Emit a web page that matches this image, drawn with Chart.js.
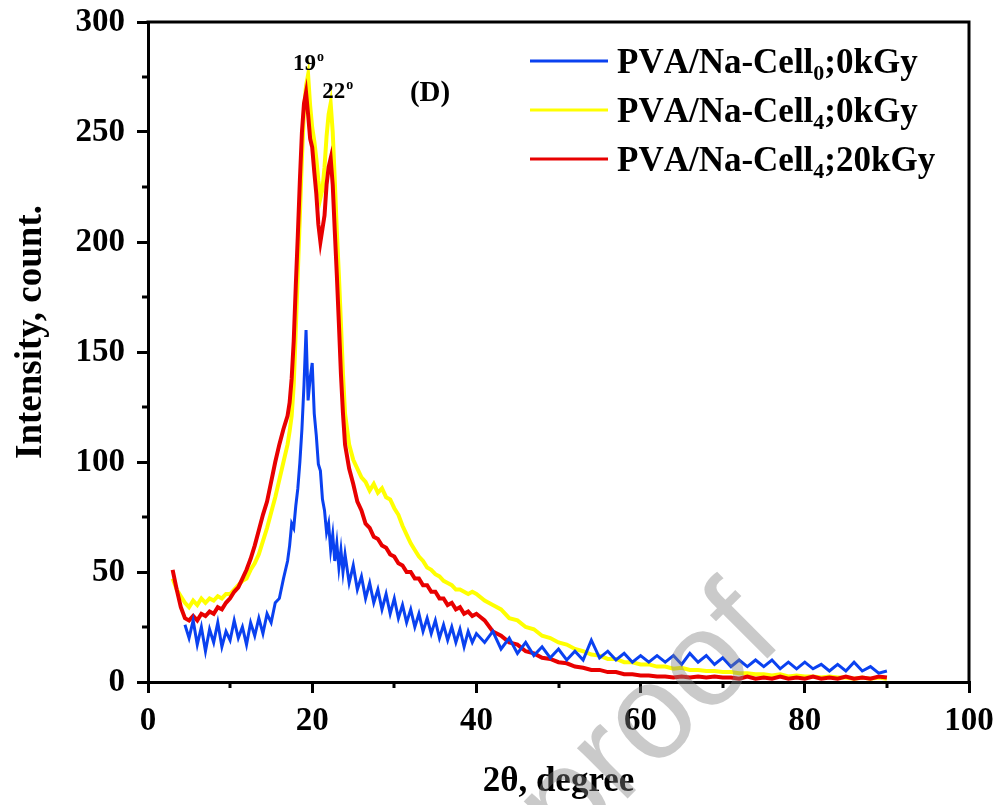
<!DOCTYPE html>
<html>
<head>
<meta charset="utf-8">
<script src="https://cdn.jsdelivr.net/npm/chart.js@4.4.1/dist/chart.umd.min.js"></script>
<style>
  html, body { margin: 0; padding: 0; background: #fff; }
  #wrap { width: 999px; height: 805px; }
</style>
</head>
<body>
<div id="wrap"><canvas id="canvasOne" width="999" height="805"></canvas></div>
<script>
// 2theta positions (degree)
var twoTheta = [
  3,3.5,4,4.5,5,5.5,6,6.5,7,7.5,8,8.5,9,9.5,10,10.5,11,11.5,12,12.5,13,13.5,14,14.5,15,15.5,16,16.5,17,
  17.25,17.5,17.75,18,18.25,18.5,18.75,19,19.25,19.5,19.75,20,20.25,20.5,20.75,21,21.25,21.5,21.75,22,22.25,22.5,22.75,23,23.25,23.5,23.75,24,
  24.5,25,25.5,26,26.5,27,27.5,28,28.5,29,29.5,30,30.5,31,31.5,32,32.5,33,33.5,34,34.5,35,35.5,36,36.5,37,37.5,38,38.5,39,39.5,40,
  41,42,43,44,45,46,47,48,49,50,51,52,53,54,55,56,57,58,59,60,61,62,63,64,65,66,67,68,69,70,
  71,72,73,74,75,76,77,78,79,80,81,82,83,84,85,86,87,88,89,90
];

// PVA/Na-Cell0 ; 0 kGy
var cell0 = [
  null,null,null,26,20,28,17,25,14,24,18,27,16,23,19,28,20,25,17,27,21,29,22,31,27,36,38,47,55,
  62,72,70,80,88,100,115,135,160,128,138,145,122,112,99,96,83,78,68,72,60,67,55,63,52,60,50,58,
  45,53,42,48,38,45,36,42,33,40,31,38,29,35,27,33,25,31,23,29,22,28,20,26,19,25,18,24,16,23,18,22,
  18,23,15,20,13,18,12,16,11,15,10,14,10,19,11,14,10,13,9,12,9,12,9,12,8,13,9,12,8,11,
  7,10,7,10,7,10,6,9,6,9,6,8,5,8,5,9,5,7,4,5
];

// PVA/Na-Cell4 ; 0 kGy
var cell4 = [
  47,42,39,36,34,37,35,38,36,38,37,39,38,40,40,42,44,46,47,51,54,58,64,70,77,84,92,100,108,
  114,121,135,160,186,212,238,260,271,276,262,252,246,238,228,220,224,234,248,258,263,250,228,205,185,163,140,122,
  108,101,97,93,91,87,90,86,88,84,83,79,76,71,67,63,60,57,55,52,51,49,48,46,45,44,42,42,41,40,41,40,
  37,35,33,29,28,25,24,21,20,18,17,15,14,12.5,12,10.5,10.5,9,9,8,8,7,7,6,6.5,5.5,5.5,5,5,4.5,
  4.5,4,4,3.5,3.5,3,3.5,2.5,3,2.5,2.5,2,2.5,2,2,1.5,2,1.5,2,1.5
];

// PVA/Na-Cell4 ; 20 kGy
var cell4irr = [
  51,42,34,29,28,30,28,31,30,32,31,34,33,36,38,41,43,47,51,56,62,69,76,82,91,100,108,115,121,
  127,138,155,180,203,228,250,263,268,258,247,243,232,222,208,200,206,212,226,234,238,226,205,185,163,140,122,108,
  97,90,82,78,72,70,66,65,62,61,58,57,54,53,50,50,47,47,44,44,41,41,38,38,35,36,33,34,31,32,30,31,
  28,23,21,18,17,14,13,11,10.5,9,8.5,7,6.5,5.5,5.5,4.5,4.5,3.5,3.5,3,3,2.5,2.5,2,2.5,2,2.5,2,2.5,2,
  2,1.5,2.5,1.5,2,1.5,2.5,1.5,2,1.5,2.5,1.5,2,1.5,2.5,1.5,2,1.5,2.5,2
];

var legendBase = 'PVA/Na-Cell';
var legendSub = ['0', '4', '4'];
var legendDose = [';0kGy', ';0kGy', ';20kGy'];
var colors = ['#0a41f0', '#ffff00', '#e80000'];

var xTicksMinor = [10, 30, 50, 70, 90];
var yTicksMinor = [25, 75, 125, 175, 225, 275];
var peakAngles = [19, 22];
var peakLabelShift = [0, 0.8];

var serif = "'Liberation Serif', 'Times New Roman', serif";

function toPoints(arr) {
  return twoTheta.map(function(x, i) { return { x: x, y: arr[i] }; });
}

var decor = {
  id: 'decor',
  afterDatasetsDraw: function(chart) {
    var ctx = chart.ctx, a = chart.chartArea, xs = chart.scales.x, ys = chart.scales.y;
    ctx.save();
    ctx.strokeStyle = '#000';
    ctx.lineWidth = 3;
    ctx.beginPath();
    ctx.moveTo(a.left - 1.5, a.top);
    ctx.lineTo(a.right, a.top);
    ctx.lineTo(a.right, a.bottom);
    ctx.stroke();
    // minor ticks
    xTicksMinor.forEach(function(v) {
      var px = Math.round(xs.getPixelForValue(v));
      ctx.beginPath(); ctx.moveTo(px, a.bottom); ctx.lineTo(px, a.bottom + 6); ctx.stroke();
    });
    yTicksMinor.forEach(function(v) {
      var py = Math.round(ys.getPixelForValue(v));
      ctx.beginPath(); ctx.moveTo(a.left, py); ctx.lineTo(a.left - 6, py); ctx.stroke();
    });

    // y axis title
    ctx.fillStyle = '#000';
    ctx.save();
    ctx.font = 'bold 37px ' + serif;
    ctx.textAlign = 'center';
    ctx.textBaseline = 'middle';
    ctx.translate(31, (a.top + a.bottom) / 2 - 20);
    ctx.rotate(-Math.PI / 2);
    ctx.fillText('Intensity, count.', 0, 0);
    ctx.restore();

    // peak labels above the yellow curve
    ctx.textBaseline = 'alphabetic';
    peakAngles.forEach(function(p, k) {
      var best = -1, bx = p;
      twoTheta.forEach(function(t, i) {
        if (Math.abs(t - p - 0.4) <= 0.6 && cell4[i] > best) { best = cell4[i]; bx = t; }
      });
      var px = xs.getPixelForValue(bx + peakLabelShift[k]), py = ys.getPixelForValue(best) - 5;
      ctx.font = 'bold 23px ' + serif;
      var w1 = ctx.measureText(String(p)).width;
      ctx.font = 'bold 14px ' + serif;
      var w2 = ctx.measureText('o').width;
      var x0 = px - (w1 + w2) / 2;
      ctx.font = 'bold 23px ' + serif;
      ctx.textAlign = 'left';
      ctx.fillText(String(p), x0, py);
      ctx.font = 'bold 14px ' + serif;
      ctx.fillText('o', x0 + w1 + 1, py - 9);
    });

    ctx.font = 'bold 29px ' + serif;
    ctx.textAlign = 'left';
    ctx.fillText('(D)', xs.getPixelForValue(31.9), ys.getPixelForValue(264));

    // legend
    ctx.fontKerning = 'none';
    for (var i = 0; i < 3; i++) {
      var ly = 61 + i * 49;
      ctx.strokeStyle = colors[i];
      ctx.lineWidth = 3;
      ctx.beginPath(); ctx.moveTo(530, ly); ctx.lineTo(608, ly); ctx.stroke();
      ctx.fillStyle = '#000';
      ctx.font = 'bold 35px ' + serif;
      var tx = 617, base = ly + 12;
      ctx.fillText(legendBase, tx, base);
      tx += ctx.measureText(legendBase).width;
      ctx.font = 'bold 22px ' + serif;
      ctx.fillText(legendSub[i], tx, base + 7);
      tx += ctx.measureText(legendSub[i]).width;
      ctx.font = 'bold 35px ' + serif;
      ctx.fillText(legendDose[i], tx, base);
    }

    // watermark
    ctx.globalAlpha = 0.42;
    ctx.fillStyle = '#808080';
    ctx.font = '135px "Liberation Sans", Arial, sans-serif';
    ctx.translate(568, 858);
    ctx.rotate(-Math.PI / 4);
    ctx.fillText('proof', 0, 0);
    ctx.restore();
  }
};

var ctx = document.getElementById('canvasOne').getContext('2d');
var config = {
  type: 'line',
  data: {
    datasets: [
      { label: 'PVA/Na-Cell0;0kGy', data: toPoints(cell0), borderColor: colors[0], borderWidth: 3, order: 0 },
      { label: 'PVA/Na-Cell4;0kGy', data: toPoints(cell4), borderColor: colors[1], borderWidth: 4, order: 2 },
      { label: 'PVA/Na-Cell4;20kGy', data: toPoints(cell4irr), borderColor: colors[2], borderWidth: 4, order: 1 }
    ]
  },
  options: {
    responsive: false,
    animation: false,
    layout: { padding: { left: 0, top: 22, right: 30, bottom: 0 } },
    elements: { point: { radius: 0 }, line: { tension: 0, fill: false } },
    plugins: { legend: { display: false }, tooltip: { enabled: false } },
    scales: {
      x: {
        type: 'linear', min: 0, max: 100,
        afterFit: function(s) { s.height = 123; s.paddingLeft = 0; s.paddingRight = 0; },
        ticks: { stepSize: 20, color: '#000', padding: 9, font: { family: serif, size: 33, weight: 'bold' } },
        grid: { drawOnChartArea: false, drawTicks: true, tickLength: 11, color: '#000', lineWidth: 3 },
        border: { display: true, color: '#000', width: 3 },
        title: { display: true, text: '2θ, degree', color: '#000', padding: { top: 0, bottom: 2 },
                 font: { family: serif, size: 35, weight: 'bold' } }
      },
      y: {
        min: 0, max: 300,
        afterFit: function(s) { s.width = 148; s.paddingTop = 0; s.paddingBottom = 0; },
        ticks: { stepSize: 50, color: '#000', padding: 12, font: { family: serif, size: 33, weight: 'bold' } },
        grid: { drawOnChartArea: false, drawTicks: true, tickLength: 11, color: '#000', lineWidth: 3 },
        border: { display: true, color: '#000', width: 3 }
      }
    }
  },
  plugins: [decor]
};

var chart = new Chart(ctx, config);
</script>
</body>
</html>
